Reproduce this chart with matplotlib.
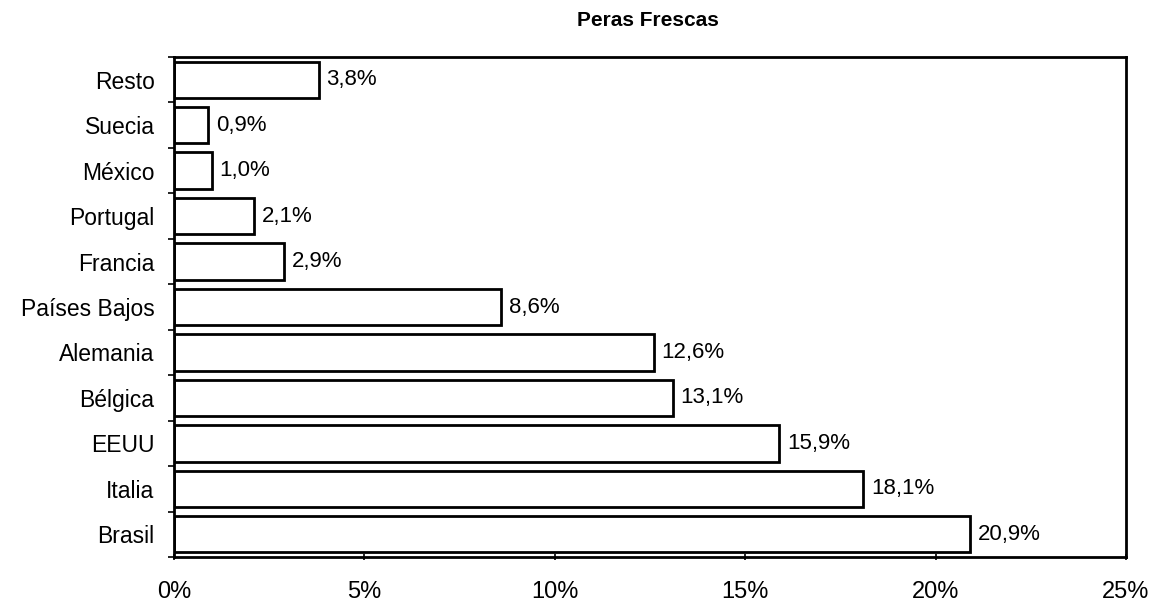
import matplotlib

matplotlib.use("Agg")
import matplotlib.pyplot as plt
from matplotlib.ticker import FuncFormatter

plt.rcParams["font.family"] = ["Liberation Sans", "DejaVu Sans"]

COUNTRIES = ["Brasil", "Italia", "EEUU", "Bélgica", "Alemania", "Países Bajos",
             "Francia", "Portugal", "México", "Suecia", "Resto"]
SHARES = [20.9, 18.1, 15.9, 13.1, 12.6, 8.6, 2.9, 2.1, 1.0, 0.9, 3.8]
XTICKS = [0, 5, 10, 15, 20, 25]

fig = plt.figure(figsize=(11.52, 6.01), dpi=100)
ax = fig.add_axes([174 / 1152, 1 - 557 / 601, (1126 - 174) / 1152, (557 - 57) / 601])

y = range(len(COUNTRIES))
ax.barh(y, SHARES, height=0.8, color="white", edgecolor="black", linewidth=2)

for yi, v in zip(y, SHARES):
    ax.text(v + 0.2, yi, f"{v:.1f}%".replace(".", ","), va="center", ha="left",
            fontsize=16, color="black")

ax.set_xlim(0, 25)
ax.set_ylim(-0.5, len(COUNTRIES) - 0.5)
ax.set_xticks(XTICKS)
ax.xaxis.set_major_formatter(FuncFormatter(lambda v, _: f"{v:.0f}%"))
ax.set_yticks(list(y))
ax.set_yticklabels(COUNTRIES)
ax.set_yticks([i - 0.5 for i in range(len(COUNTRIES) + 1)], minor=True)
ax.tick_params(axis="y", which="major", length=0, labelsize=16.5, pad=14)
ax.tick_params(axis="y", which="minor", length=4, width=1.2, direction="out")
ax.tick_params(axis="x", length=4, width=1.2, direction="inout", labelsize=17, pad=15)

for s in ax.spines.values():
    s.set_linewidth(2)
    s.set_color("black")

fig.text(648 / 1152, 1 - 21 / 601, "Peras Frescas", ha="center", va="center",
         fontsize=15, fontweight="bold")

fig.savefig("out.png", dpi=100, facecolor="white")
